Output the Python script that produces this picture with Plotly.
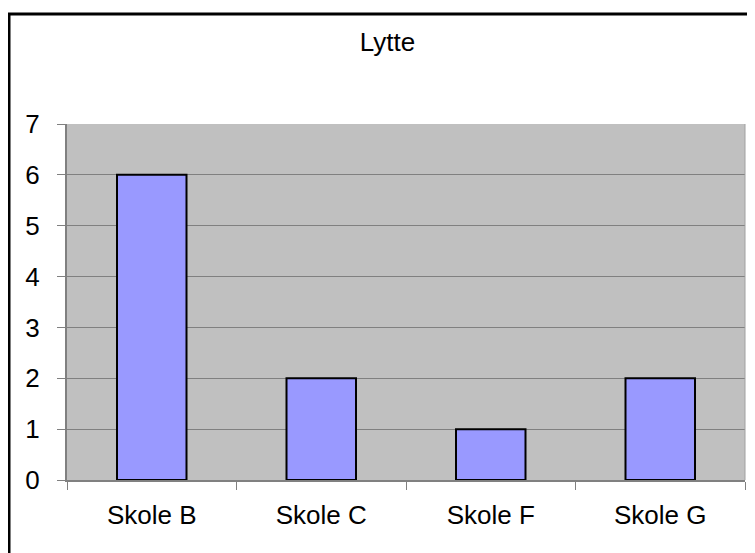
import plotly.graph_objects as go

SCHOOLS = ["Skole B", "Skole C", "Skole F", "Skole G"]
COUNTS = [6, 2, 1, 2]
Y_TICKS = [0, 1, 2, 3, 4, 5, 6, 7]

FONT = "Liberation Sans, Arial, sans-serif"

fig = go.Figure()
fig.add_trace(
    go.Bar(
        x=SCHOOLS,
        y=COUNTS,
        width=0.41,
        marker=dict(color="#9999FF", line=dict(color="#000000", width=2)),
        hoverinfo="x+y",
    )
)

# the page body adds an 8px offset, so margins are measured from there
fig.update_layout(
    width=755,
    height=553,
    margin=dict(l=59, r=18, t=116, b=81),
    paper_bgcolor="#FFFFFF",
    plot_bgcolor="#C0C0C0",
    showlegend=False,
    font=dict(family=FONT, size=26, color="#000000"),
    title=dict(
        text="Lytte",
        xref="container",
        yref="container",
        x=379.5 / 755,
        xanchor="center",
        y=1 - 34 / 553,
        yanchor="middle",
        font=dict(family=FONT, size=26, color="#000000"),
    ),
)

fig.update_xaxes(
    showgrid=False,
    showline=True,
    linecolor="#808080",
    linewidth=2,
    ticks="outside",
    tickson="boundaries",
    ticklen=8,
    tickcolor="#808080",
    tickwidth=1,
    ticklabelstandoff=11,
    tickfont=dict(family=FONT, size=26, color="#000000"),
    fixedrange=True,
)
fig.update_yaxes(
    range=[0, 7],
    tickvals=Y_TICKS,
    showgrid=True,
    gridcolor="#808080",
    gridwidth=1,
    showline=True,
    linecolor="#808080",
    linewidth=2,
    ticks="outside",
    ticklen=8,
    tickcolor="#808080",
    tickwidth=1,
    ticklabelstandoff=12,
    zeroline=False,
    tickfont=dict(family=FONT, size=26, color="#000000"),
    fixedrange=True,
)

# plot-area right edge
fig.add_shape(
    type="line", xref="paper", yref="paper",
    x0=1, x1=1, y0=0, y1=1,
    line=dict(color="#A0A0A0", width=1),
)
# outer chart border (only left and top fall inside the picture)
fig.add_shape(
    type="rect", xref="paper", yref="paper",
    x0=(1 - 59) / 678, x1=1.2, y0=-0.4, y1=(472 - 6) / 356,
    line=dict(color="#000000", width=3),
    layer="below",
)

fig.write_html("out.html")
